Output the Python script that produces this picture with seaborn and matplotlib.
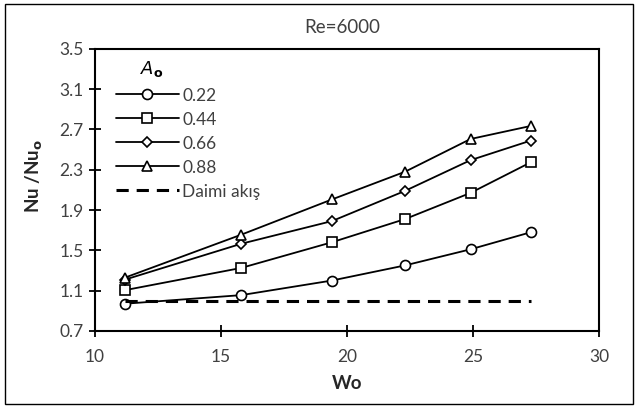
import matplotlib
matplotlib.use("Agg")
import matplotlib.pyplot as plt
import seaborn as sns
import pandas as pd
from matplotlib.patches import Rectangle

sns.set_theme(style="white")
plt.rcParams['font.family'] = ['Lato', 'DejaVu Sans']

wo = [11.2, 15.8, 19.4, 22.3, 24.9, 27.3]
a022 = [0.97, 1.055, 1.20, 1.35, 1.51, 1.68]
a044 = [1.105, 1.325, 1.58, 1.81, 2.07, 2.375]
a066 = [1.21, 1.565, 1.79, 2.09, 2.395, 2.59]
a088 = [1.23, 1.655, 2.005, 2.28, 2.605, 2.735]
steady_x = [11.2, 27.3]
steady_y = [1.0, 1.0]
labels = ["0.22", "0.44", "0.66", "0.88"]
markers = ["o", "s", "D", "^"]
msizes = [7.2, 6.6, 5.0, 7.0]
xticks = [10, 15, 20, 25, 30]
yticks = [0.7, 1.1, 1.5, 1.9, 2.3, 2.7, 3.1, 3.5]

fig = plt.figure(figsize=(6.38, 4.07), dpi=100)
ax = fig.add_axes([0.149, 0.187, 0.790, 0.693])

for vals, lab, mk, ms in zip([a022, a044, a066, a088], labels, markers, msizes):
    df = pd.DataFrame({"Wo": wo, "r": vals})
    sns.lineplot(data=df, x="Wo", y="r", ax=ax, color="black", linewidth=1.3,
                 marker=mk, markersize=ms, markerfacecolor="white",
                 markeredgecolor="black", markeredgewidth=1.2, label=lab)

dfs = pd.DataFrame({"Wo": steady_x, "r": steady_y})
sns.lineplot(data=dfs, x="Wo", y="r", ax=ax, color="black", linewidth=2.2,
             dashes=False, label="Daimi akış")
ax.lines[-1].set_dashes((4, 2.6))

ax.set_xlim(10, 30)
ax.set_ylim(0.7, 3.5)
ax.set_xticks(xticks)
ax.set_yticks(yticks)
ax.set_yticklabels([f"{v:.1f}" for v in yticks])
ax.tick_params(direction="inout", length=8, width=1.3, colors="black",
               labelsize=12.5, labelcolor="#404040")
ax.tick_params(axis="x", bottom=True, pad=9)
ax.tick_params(axis="y", left=True, pad=4)
for s in ax.spines.values():
    s.set_color("black")
    s.set_linewidth(1.5)

ax.set_xlabel("Wo", fontsize=13.5, fontweight="bold", va="center")
ax.xaxis.set_label_coords(0.5, -0.185)
ax.set_ylabel(r"Nu /Nu$_\mathbf{o}$", fontsize=13.5, fontweight="bold", va="center")
ax.yaxis.set_label_coords(-0.12, 0.55)
fig.text(0.536, 0.933, "Re=6000", ha="center", va="center", fontsize=13.5,
         color="#404040")

leg = ax.legend(loc="upper left", bbox_to_anchor=(0.035, 0.875), frameon=False,
                fontsize=12.5, handlelength=3.6, handletextpad=0.2,
                labelspacing=0.46, borderaxespad=0.0, borderpad=0.2)
for t in leg.get_texts():
    t.set_color("#404040")
ax.text(0.113, 0.93, r"$\mathbf{\mathit{A}}_\mathbf{o}$", transform=ax.transAxes,
        ha="center", va="center", fontsize=13, color="black")

fig.patches.append(Rectangle((0.008, 0.008), 0.984, 0.982, transform=fig.transFigure,
                             fill=False, edgecolor="black", linewidth=1.0))

fig.savefig("out.png", dpi=100)
